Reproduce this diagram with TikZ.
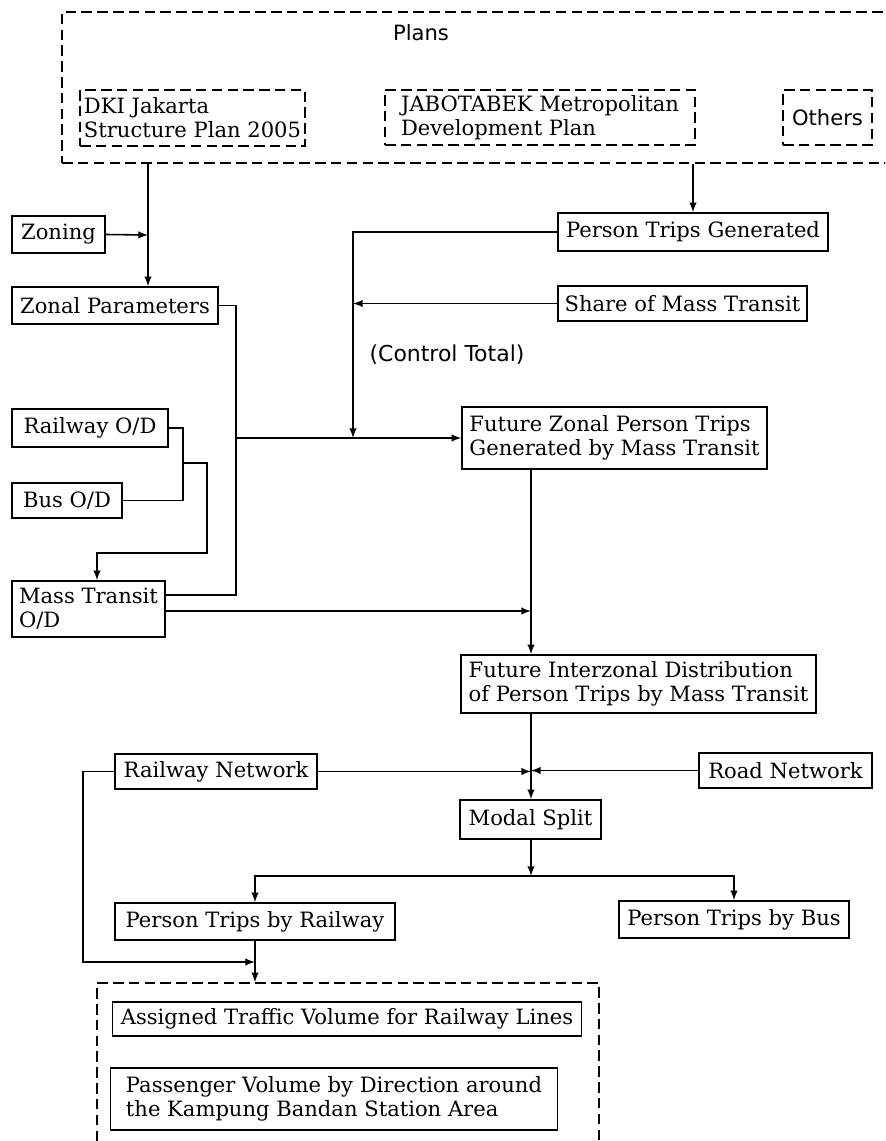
\documentclass[tikz,border=0pt]{standalone}
\usepackage{fontspec}
\setmainfont{DejaVu Serif}
\newfontfamily\plansans{DejaVu Sans}
\usepackage{tikz}
\usetikzlibrary{arrows}
\usetikzlibrary{arrows.meta}

\tikzset{
	flowbox/.style={draw, line width=0.9pt, inner sep=2pt, font=\fontsize{12}{13.5}\selectfont},
	textbox/.style={flowbox, align=left},
	planbox/.style={textbox, dash pattern=on 6pt off 3pt},
	sanslabel/.style={font=\plansans\fontsize{12}{13}\selectfont}
}

\begin{document}
\begin{tikzpicture}[x=0.02cm, y=-0.02cm, >=latex, line width=0.9pt]
\useasboundingbox (0,0) rectangle (885,1141);
\clip (0,0) rectangle (885,1141);

% plans
\node[planbox, minimum width=16.66cm, minimum height=3.02cm] (plansbox) at (478.5,87.5) {};
\node[sanslabel] (planslabel) at (421,33) {Plans};
\node[planbox, minimum width=4.5cm, minimum height=1.12cm] (dki) at (192.5,118) {DKI Jakarta\\Structure Plan 2005};
\node[planbox, minimum width=6.2cm, minimum height=1.1cm] (jabo) at (540,117.5) {JABOTABEK Metropolitan\\Development Plan};
\node[planbox, sanslabel, minimum width=1.78cm, minimum height=1.1cm] (others) at (827.5,117.5) {Others};

% left column
\node[flowbox, minimum width=1.86cm, minimum height=0.74cm] (zoning) at (58.5,234.5) {Zoning};
\node[flowbox, minimum width=4.12cm, minimum height=0.74cm] (zonal) at (115,305.5) {Zonal Parameters};
\node[flowbox, minimum width=3.12cm, minimum height=0.76cm] (railod) at (90,428) {Railway O/D};
\node[flowbox, minimum width=2.2cm, minimum height=0.7cm] (busod) at (67,500.5) {Bus O/D};
\node[textbox, minimum width=3.06cm, minimum height=1.12cm] (mtod) at (88.5,609) {Mass Transit\\O/D};

% right column
\node[flowbox, minimum width=5.4cm, minimum height=0.76cm] (ptgen) at (693,232) {Person Trips Generated};
\node[flowbox, minimum width=4.98cm, minimum height=0.7cm] (share) at (682.5,303.5) {Share of Mass Transit};
\node[sanslabel, font=\plansans\fontsize{12.5}{13}\selectfont] (ctrl) at (447,355) {(Control Total)};
\node[textbox, minimum width=6.1cm, minimum height=1.24cm] (fzonal) at (614.5,438) {Future Zonal Person Trips\\Generated by Mass Transit};
\node[textbox, minimum width=7.1cm, minimum height=1.16cm] (finter) at (638.5,684) {Future Interzonal Distribution\\of Person Trips by Mass Transit};
\node[flowbox, minimum width=4.04cm, minimum height=0.7cm] (railnet) at (216,771.5) {Railway Network};
\node[flowbox, minimum width=3.46cm, minimum height=0.7cm] (roadnet) at (785.5,770.5) {Road Network};
\node[flowbox, minimum width=2.82cm, minimum height=0.78cm] (modal) at (530.5,819.5) {Modal Split};
\node[flowbox, minimum width=5.6cm, minimum height=0.74cm] (ptrail) at (255,921.5) {Person Trips by Railway};
\node[flowbox, minimum width=4.6cm, minimum height=0.74cm] (ptbus) at (734,919.5) {Person Trips by Bus};

% results
\node[planbox, minimum width=10.04cm, minimum height=3.54cm] (resultbox) at (348,1071.5) {};
\node[flowbox, line width=0.6pt, minimum width=9.4cm, minimum height=0.68cm] (assigned) at (347,1019) {Assigned Traffic Volume for Railway Lines};
\node[textbox, line width=0.6pt, minimum width=8.96cm, minimum height=1.24cm] (passenger) at (334,1099) {Passenger Volume by Direction around\\the Kampung Bandan Station Area};

% connectors
\coordinate (zfeed) at (148,235);
\draw[->] (plansbox.south -| zfeed) -- (zonal.north -| zfeed);
\draw[->] (zoning.east) -- (zfeed);
\draw[->] (plansbox.south -| ptgen.north) -- (ptgen.north);

\coordinate (zpjoin) at (236,438);
\coordinate (mtin) at (165,595);
\draw (zonal.east) -| (zpjoin) |- (mtin);
\draw[->] (zpjoin) -- (fzonal.west);

\coordinate (ctjoin) at (353,438);
\draw[->] (ptgen.west) -| (ctjoin);
\draw[->] (share.west) -- (share.west -| ctjoin);

\coordinate (odmerge) at (183,463);
\coordinate (odturn) at (207,553);
\draw (railod.east) -| (odmerge) |- (busod.east);
\draw[->] (odmerge) -| (odturn) -| ([xshift=0.17cm]mtod.north);

\coordinate (spine) at (531,611);
\draw[->] (fzonal.south -| spine) -- (finter.north -| spine);
\draw[->] (mtod.east |- spine) -- (spine);

\draw[->] (finter.south -| spine) -- (modal.north -| spine);
\draw[->] (railnet.east) -- (railnet.east -| spine);
\draw[->] (roadnet.west) -- (roadnet.west -| spine);

\coordinate (split) at (531,876);
\draw[->] (modal.south -| spine) -- (split);
\draw[->] (split) -| (ptrail.north);
\draw[->] (split) -| (ptbus.north);

\coordinate (railback) at (83,962);
\draw[->] (railnet.west) -| (railback) -- (railback -| ptrail.south);
\draw[->] (ptrail.south) -- (resultbox.north -| ptrail.south);
\end{tikzpicture}
\end{document}
